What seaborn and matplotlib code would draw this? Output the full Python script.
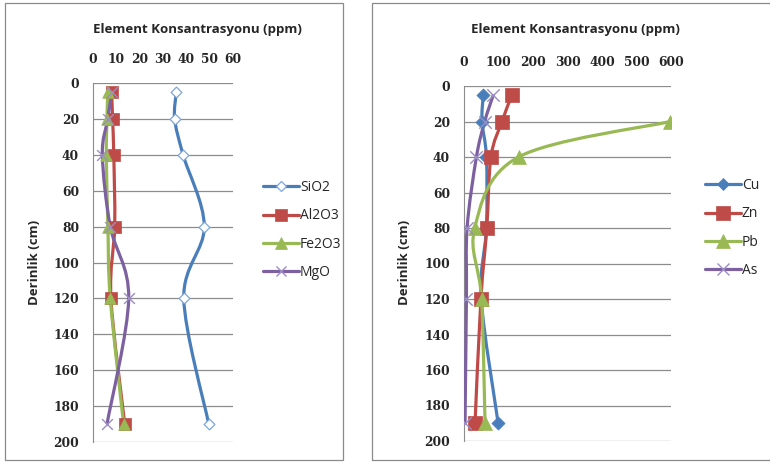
import numpy as np
import pandas as pd
import matplotlib
matplotlib.use('Agg')
from matplotlib import pyplot as plt
from matplotlib.path import Path
from matplotlib.patches import PathPatch, Rectangle
from matplotlib.lines import Line2D
import seaborn as sns

# depth (cm) of samples
depth = [5, 20, 40, 80, 120, 190]

# left panel - oxides
sio2 = [35.7, 35.0, 38.6, 47.7, 38.9, 49.6]
al2o3 = [8.0, 8.4, 8.9, 9.3, 7.7, 13.6]
fe2o3 = [6.3, 6.0, 5.7, 6.4, 7.4, 13.1]
mgo = [8.1, 6.3, 4.0, 7.4, 15.3, 6.0]

# right panel - trace elements
cu = [56, 52, 65, 65, 50, 99]
zn = [139, 110, 78, 66, 49, 32]
pb = [np.nan, 598, 158, 31, 51, 61]
as_ = [85, 60, 36, 9, 7, 3]

left_names = ['SiO2', 'Al2O3', 'Fe2O3', 'MgO']
right_names = ['Cu', 'Zn', 'Pb', 'As']
left_ticks = [0, 10, 20, 30, 40, 50, 60]
right_ticks = [0, 100, 200, 300, 400, 500, 600]
depth_ticks = [0, 20, 40, 60, 80, 100, 120, 140, 160, 180, 200]

blue, red, green, purple = '#4A7EBB', '#BE4B48', '#98B954', '#7D60A0'

sns.set_style('white')
plt.rcParams['font.family'] = ['DejaVu Sans']

W, H = 770, 463
fig = plt.figure(figsize=(W / 100, H / 100), dpi=100)


def smooth_path(x, y, sx, sy):
    # excel-like smoothed line (bezier through the points)
    pts = np.column_stack([np.asarray(x, float) * sx, np.asarray(y, float) * sy])
    n = len(pts)
    verts = [pts[0]]
    codes = [Path.MOVETO]
    for i in range(n - 1):
        p0 = pts[max(i - 1, 0)]
        p1 = pts[i]
        p2 = pts[i + 1]
        p3 = pts[min(i + 2, n - 1)]
        c1 = p1 + (p2 - p0) / 6
        c2 = p2 - (p3 - p1) / 6
        verts += [c1, c2, p2]
        codes += [Path.CURVE4] * 3
    verts = np.array(verts)
    verts[:, 0] /= sx
    verts[:, 1] /= sy
    return Path(verts, codes)


def panel(rect, names, series, styles, xmax, xticks, legend_xy):
    ax = fig.add_axes(rect)
    wpx = rect[2] * W
    hpx = rect[3] * H
    df = pd.DataFrame({'depth': depth})
    for nm, s in zip(names, series):
        df[nm] = s
    for nm, (col, mk, ms, mfc, mec, mew) in zip(names, styles):
        d = df[['depth', nm]].dropna()
        p = smooth_path(d[nm], d['depth'], wpx / xmax, hpx / 200)
        ax.add_patch(PathPatch(p, facecolor='none', edgecolor=col, lw=2.3, zorder=3))
        fc = mec if mk == 'x' else mfc
        sns.scatterplot(x=d[nm], y=d['depth'], ax=ax, marker=mk, s=ms,
                        facecolor=fc, edgecolor=mec, linewidth=mew,
                        zorder=4, legend=False)
    ax.set_xlim(0, xmax)
    ax.set_ylim(200, 0)
    ax.set_xticks(xticks)
    ax.set_yticks(depth_ticks)
    ax.xaxis.tick_top()
    ax.tick_params(axis='both', length=0, labelsize=8.8)
    ax.tick_params(axis='y', pad=10)
    ax.tick_params(axis='x', pad=12)
    for lab in ax.get_xticklabels() + ax.get_yticklabels():
        lab.set_family('DejaVu Serif')
        lab.set_fontweight('bold')
    ax.grid(axis='y', color='#8c8c8c', lw=0.9)
    ax.grid(axis='x', visible=False)
    for sp in ['top', 'right', 'bottom']:
        ax.spines[sp].set_visible(False)
    ax.spines['left'].set_color('#8c8c8c')
    ax.set_xlabel('')
    ax.set_ylabel('')
    handles = [Line2D([], [], color=c, lw=2.3, marker=m,
                      markersize=np.sqrt(ms) * 0.95, markerfacecolor=mfc,
                      markeredgecolor=mec, markeredgewidth=mew)
               for c, m, ms, mfc, mec, mew in styles]
    fig.legend(handles, names, loc='center left', bbox_to_anchor=legend_xy,
               frameon=False, handlelength=2.6, handletextpad=0.1,
               labelspacing=0.95, prop={'family': 'Open Sans', 'size': 10})
    return ax


left_styles = [
    (blue, 'D', 30, 'white', '#7FA6D8', 0.9),
    (red, 's', 70, red, red, 0.5),
    (green, '^', 70, green, green, 0.5),
    (purple, 'x', 60, 'none', '#9B8CC4', 1.0),
]
right_styles = [
    (blue, 'D', 45, blue, blue, 0.5),
    (red, 's', 110, red, red, 0.5),
    (green, '^', 100, green, green, 0.5),
    (purple, 'x', 80, 'none', '#9B8CC4', 1.0),
]

panel([93 / W, 1 - 442 / H, 140 / W, 359 / H], left_names,
      [sio2, al2o3, fe2o3, mgo], left_styles, 60, left_ticks,
      (250 / W, 1 - 230 / H))
panel([464 / W, 1 - 441 / H, 207 / W, 355 / H], right_names,
      [cu, zn, pb, as_], right_styles, 600, right_ticks,
      (692 / W, 1 - 228 / H))

# titles and axis labels
for x in [197, 575]:
    fig.text(x / W, 1 - 30 / H, 'Element Konsantrasyonu (ppm)', ha='center', va='center',
             fontsize=9.5, fontweight='bold', family='Open Sans')
for x in [35, 405]:
    fig.text(x / W, 1 - 262 / H, 'Derinlik (cm)', ha='center', va='center', rotation=90,
             fontsize=9.5, fontweight='bold', family='Open Sans')

# chart area borders
fig.add_artist(Rectangle((5 / W, 3 / H), 338 / W, 457 / H, transform=fig.transFigure,
                         fill=False, edgecolor='#8a8a8a', lw=0.9))
fig.add_artist(Rectangle((372 / W, 3 / H), 400 / W, 457 / H, transform=fig.transFigure,
                         fill=False, edgecolor='#8a8a8a', lw=0.9))

fig.savefig('out.png', dpi=100)
